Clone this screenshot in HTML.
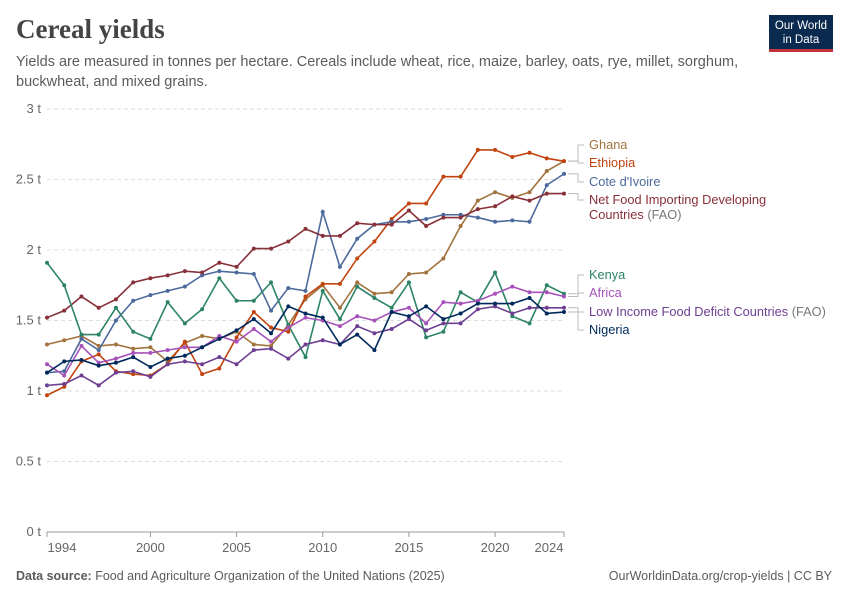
<!DOCTYPE html>
<html><head><meta charset="utf-8">
<style>
body{margin:0;background:#fff;font-family:"Liberation Sans",sans-serif;}
#wrap{position:relative;width:850px;height:600px;overflow:hidden;}
.title{position:absolute;left:16px;top:14px;font-family:"Liberation Serif",serif;font-size:27px;font-weight:bold;color:#444;}
.sub{position:absolute;left:16px;top:52px;font-size:14.5px;color:#5b5b5b;line-height:20px;width:760px;}
.logo{position:absolute;left:769px;top:15px;width:64px;height:37px;background:#0b2a4f;color:#fff;font-size:11.5px;text-align:center;line-height:14px;padding-top:4px;box-sizing:border-box;border-bottom:3px solid #c2323b;}
.foot{position:absolute;top:569px;font-size:12.5px;color:#5b5b5b;}
</style></head><body>
<div id="wrap">
<div class="title">Cereal yields</div>
<div class="sub">Yields are measured in tonnes per hectare. Cereals include wheat, rice, maize, barley, oats, rye, millet, sorghum, buckwheat, and mixed grains.</div>
<div class="logo">Our World<br>in Data</div>
<svg id="chart" width="850" height="600" style="position:absolute;left:0;top:0"></svg>
<div class="foot" style="left:16px"><b>Data source:</b> Food and Agriculture Organization of the United Nations (2025)</div>
<div class="foot" style="right:18px">OurWorldinData.org/crop-yields | CC BY</div>
</div>
<script>
const years=[1994,1995,1996,1997,1998,1999,2000,2001,2002,2003,2004,2005,2006,2007,2008,2009,2010,2011,2012,2013,2014,2015,2016,2017,2018,2019,2020,2021,2022,2023,2024];
const ghana=[1.33,1.36,1.39,1.32,1.33,1.30,1.31,1.21,1.34,1.39,1.37,1.42,1.33,1.32,1.47,1.65,1.75,1.59,1.77,1.69,1.70,1.83,1.84,1.94,2.17,2.35,2.41,2.37,2.41,2.56,2.63];
const ethiopia=[0.97,1.03,1.21,1.26,1.14,1.12,1.11,1.19,1.35,1.12,1.16,1.38,1.56,1.45,1.42,1.67,1.76,1.76,1.94,2.06,2.22,2.33,2.33,2.52,2.52,2.71,2.71,2.66,2.69,2.65,2.63];
const coteDIvoire=[1.13,1.14,1.37,1.29,1.50,1.64,1.68,1.71,1.74,1.82,1.85,1.84,1.83,1.57,1.73,1.71,2.27,1.88,2.08,2.18,2.20,2.20,2.22,2.25,2.25,2.23,2.20,2.21,2.20,2.46,2.54];
const netFood=[1.52,1.57,1.67,1.59,1.65,1.77,1.80,1.82,1.85,1.84,1.91,1.88,2.01,2.01,2.06,2.15,2.10,2.10,2.19,2.18,2.18,2.28,2.17,2.23,2.23,2.29,2.31,2.38,2.35,2.40,2.40];
const kenya=[1.91,1.75,1.40,1.40,1.59,1.42,1.37,1.63,1.48,1.58,1.80,1.64,1.64,1.77,1.47,1.24,1.71,1.51,1.74,1.66,1.59,1.77,1.38,1.42,1.70,1.63,1.84,1.53,1.48,1.75,1.69];
const africa=[1.19,1.11,1.32,1.20,1.23,1.27,1.27,1.29,1.31,1.31,1.39,1.35,1.44,1.35,1.45,1.52,1.50,1.46,1.53,1.50,1.56,1.59,1.48,1.63,1.62,1.64,1.69,1.74,1.70,1.70,1.67];
const lowIncome=[1.04,1.05,1.11,1.04,1.13,1.14,1.10,1.19,1.21,1.19,1.24,1.19,1.29,1.30,1.23,1.33,1.36,1.33,1.46,1.41,1.44,1.51,1.43,1.48,1.48,1.58,1.60,1.55,1.59,1.59,1.59];
const nigeria=[1.13,1.21,1.22,1.18,1.20,1.24,1.17,1.23,1.25,1.31,1.37,1.43,1.51,1.41,1.60,1.55,1.52,1.33,1.40,1.29,1.56,1.53,1.60,1.51,1.55,1.62,1.62,1.62,1.66,1.55,1.56];
const yTicks=[0,0.5,1,1.5,2,2.5,3];
const yTickLabels=["0 t","0.5 t","1 t","1.5 t","2 t","2.5 t","3 t"];
const xTicks=[1994,2000,2005,2010,2015,2020,2024];

const NS="http://www.w3.org/2000/svg";
const svg=document.getElementById('chart');
const x=y=>47+(y-1994)*(564-47)/30;
const yS=v=>532-v*141;
function mk(t,a,p){const e=document.createElementNS(NS,t);for(const k in a)e.setAttribute(k,a[k]);(p||svg).appendChild(e);return e;}
yTicks.forEach((v,i)=>{
  const g=mk('line',{x1:47,x2:564,y1:yS(v),y2:yS(v),stroke:'#ddd','stroke-dasharray':v===0?'':'4,3'});
  
  
  const t=mk('text',{x:41,y:yS(v)+4,'text-anchor':'end','font-size':13,fill:'#666'});
  t.textContent=yTickLabels[i];
  
  
});
mk('line',{x1:47,x2:564,y1:532,y2:532,stroke:'#999'});
xTicks.forEach(yr=>{
  mk('line',{x1:x(yr),x2:x(yr),y1:532,y2:537,stroke:'#999'});
  let px=x(yr);if(yr===1994)px=62;if(yr===2024)px=549;
  const t=mk('text',{x:px,y:552,'text-anchor':'middle','font-size':13,fill:'#666'});
  t.textContent=yr;
  
  
});
const series=[
 [ghana,'#a2733d','ghana'],[ethiopia,'#c1440e','ethiopia'],[coteDIvoire,'#4c6a9c','cote-divoire'],
 [netFood,'#883039','net-food-importing'],[kenya,'#2c8465','kenya'],[africa,'#a652ba','africa'],
 [lowIncome,'#6d3e91','low-income-food-deficit'],[nigeria,'#00295b','nigeria']];
series.forEach(([d,c,n])=>{
  const g=mk('g',{});
  
  
  mk('polyline',{points:d.map((v,i)=>x(years[i])+','+yS(v)).join(' '),fill:'none',stroke:c,'stroke-width':1.6},g);
  d.forEach((v,i)=>{const p=mk('circle',{cx:x(years[i]),cy:yS(v),r:2,fill:c},g);
    
    });
});
const legend=[
 ['Ghana','',ghana,145,'#a2733d'],['Ethiopia','',ethiopia,163,'#c1440e'],["Cote d'Ivoire",'',coteDIvoire,182,'#4c6a9c'],
 ['Net Food Importing Developing','Countries',netFood,200,'#883039'],['Kenya','',kenya,275,'#2c8465'],['Africa','',africa,293,'#a652ba'],
 ['Low Income Food Deficit Countries','',lowIncome,312,'#6d3e91'],['Nigeria','',nigeria,330,'#00295b']];
legend.forEach(([a,b,d,ly,c])=>{
  const ey=yS(d[d.length-1]);
  mk('path',{d:`M568,${ey}H578V${ly}H584`,fill:'none',stroke:'#bbb'});
  const t=mk('text',{x:589,y:ly+4,'font-size':12.8,fill:c});
  
  
  t.textContent=a;
  if(a.startsWith('Low')){const s=mk('tspan',{fill:'#777'},t);s.textContent=' (FAO)';}
  if(b){const t2=mk('text',{x:589,y:ly+19,'font-size':12.8,fill:c});t2.textContent=b;
    
    
    const s=mk('tspan',{fill:'#777'},t2);s.textContent=' (FAO)';}
});
</script>
</body></html>
